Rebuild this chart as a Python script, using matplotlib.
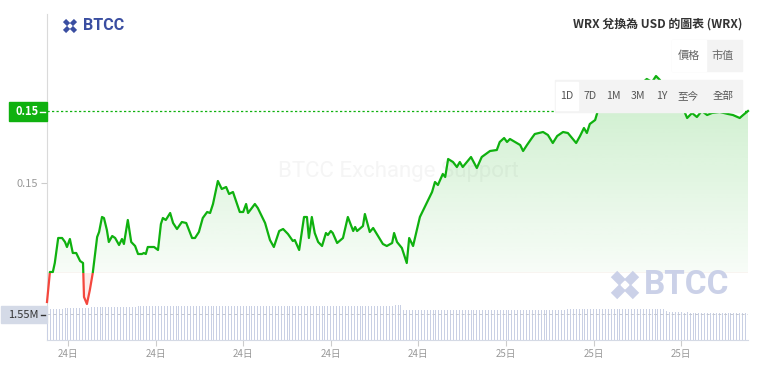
import numpy as np
import matplotlib.pyplot as plt
from matplotlib.patches import Rectangle, Polygon
from matplotlib.lines import Line2D
from matplotlib.colors import to_rgb

plt.rcParams['font.family'] = ['Noto Sans CJK TC', 'DejaVu Sans']

# minutes since 24日 08:17
minutes = [0, 6, 12, 16, 23, 31, 37, 41, 47, 53,
           60, 68, 74, 76, 82, 88, 94, 103, 107, 113,
           117, 123, 127, 134, 140, 148, 154, 158, 166, 173,
           181, 187, 195, 199, 203, 207, 220, 228, 234, 238,
           244, 253, 259, 267, 277, 286, 298, 304, 312, 320,
           329, 335, 341, 351, 359, 368, 374, 382, 396, 403,
           409, 413, 427, 433, 448, 458, 466, 477, 485, 495,
           505, 509, 518, 528, 534, 538, 544, 550, 557, 565,
           573, 577, 583, 587, 596, 608, 618, 629, 633, 637,
           649, 653, 663, 670, 690, 698, 709, 713, 719, 729,
           739, 744, 752, 766, 791, 797, 803, 813, 818, 824,
           834, 842, 848, 854, 871, 883, 893, 910, 924, 930,
           939, 945, 951, 972, 978, 986, 996, 1002, 1011, 1019,
           1029, 1039, 1048, 1060, 1070, 1087, 1095, 1103, 1109, 1115,
           1126, 1132, 1142, 1156, 1173, 1187, 1202, 1218, 1232, 1243,
           1251, 1259, 1269, 1284, 1296, 1308, 1315, 1325, 1335, 1345,
           1356, 1366, 1382, 1399, 1409, 1423, 1430, 1440]
price = [0.14405, 0.14555, 0.14555, 0.14600, 0.14725, 0.14725, 0.14705, 0.14680, 0.14720, 0.14650,
         0.14650, 0.14610, 0.14600, 0.14430, 0.14395, 0.14465, 0.14550, 0.14730, 0.14755, 0.14830,
         0.14825, 0.14765, 0.14705, 0.14735, 0.14725, 0.14690, 0.14720, 0.14695, 0.14815, 0.14705,
         0.14685, 0.14645, 0.14645, 0.14650, 0.14645, 0.14680, 0.14680, 0.14665, 0.14795, 0.14825,
         0.14815, 0.14850, 0.14800, 0.14770, 0.14805, 0.14800, 0.14725, 0.14725, 0.14755, 0.14825,
         0.14855, 0.14850, 0.14895, 0.15010, 0.14970, 0.14980, 0.14945, 0.14955, 0.14855, 0.14855,
         0.14895, 0.14850, 0.14895, 0.14875, 0.14800, 0.14715, 0.14680, 0.14760, 0.14770, 0.14745,
         0.14710, 0.14715, 0.14665, 0.14830, 0.14830, 0.14725, 0.14830, 0.14750, 0.14705, 0.14685,
         0.14750, 0.14740, 0.14760, 0.14750, 0.14700, 0.14725, 0.14830, 0.14760, 0.14780, 0.14760,
         0.14785, 0.14845, 0.14755, 0.14775, 0.14695, 0.14685, 0.14700, 0.14750, 0.14705, 0.14675,
         0.14600, 0.14725, 0.14685, 0.14830, 0.14955, 0.15005, 0.14990, 0.15045, 0.15030, 0.15120,
         0.15105, 0.15080, 0.15105, 0.15080, 0.15130, 0.15075, 0.15130, 0.15160, 0.15165, 0.15205,
         0.15225, 0.15205, 0.15220, 0.15190, 0.15160, 0.15190, 0.15225, 0.15245, 0.15250, 0.15255,
         0.15240, 0.15200, 0.15235, 0.15255, 0.15250, 0.15200, 0.15235, 0.15275, 0.15250, 0.15295,
         0.15315, 0.15365, 0.15415, 0.15440, 0.15430, 0.15465, 0.15455, 0.15490, 0.15520, 0.15505,
         0.15535, 0.15515, 0.15475, 0.15440, 0.15405, 0.15365, 0.15325, 0.15350, 0.15330, 0.15360,
         0.15340, 0.15350, 0.15355, 0.15345, 0.15340, 0.15325, 0.15340, 0.15360]
baseline = 0.14550

# volume (millions), one bar every 6 minutes
volume = [1.85, 1.86, 1.86, 1.87, 1.88, 1.88, 1.89, 1.90, 1.90, 1.91, 1.92, 1.92, 1.93, 1.94, 1.94, 1.95, 1.95, 1.96, 1.96, 1.97,
          1.97, 1.97, 1.98, 1.98, 1.98, 1.99, 1.99, 1.99, 2.00, 2.00, 2.00, 2.01, 2.01, 2.01, 2.02, 2.02, 2.02, 2.02, 2.03, 2.03,
          2.03, 2.04, 2.03, 2.04, 2.04, 2.03, 2.04, 2.04, 2.04, 2.03, 2.04, 2.04, 2.04, 2.04, 2.03, 2.04, 2.04, 2.04, 2.04, 2.04,
          2.04, 2.04, 2.03, 2.04, 2.04, 2.04, 2.04, 2.04, 2.03, 2.04, 2.04, 2.04, 2.04, 2.04, 2.04, 2.03, 2.04, 2.04, 2.04, 2.04,
          2.04, 2.03, 2.04, 2.04, 2.04, 2.04, 2.03, 2.04, 2.04, 2.04, 2.04, 2.04, 2.03, 2.04, 2.04, 2.04, 2.04, 2.03, 2.04, 2.04,
          2.04, 2.04, 2.04, 2.03, 2.04, 2.04, 2.04, 2.04, 2.03, 2.04, 2.04, 2.04, 2.04, 2.04, 2.03, 2.04, 2.04, 2.04, 2.04, 2.08,
          2.09, 2.07, 1.82, 1.81, 1.81, 1.81, 1.82, 1.81, 1.81, 1.81, 1.80, 1.81, 1.81, 1.81, 1.81, 1.82, 1.81, 1.81, 1.81, 1.81,
          1.81, 1.80, 1.81, 1.81, 1.82, 1.81, 1.81, 1.81, 1.81, 1.80, 1.81, 1.81, 1.82, 1.81, 1.81, 1.81, 1.80, 1.81, 1.81, 1.81,
          1.81, 1.81, 1.82, 1.81, 1.81, 1.81, 1.80, 1.81, 1.81, 1.81, 1.82, 1.81, 1.81, 1.81, 1.81, 1.80, 1.81, 1.81, 1.85, 1.85,
          1.85, 1.86, 1.85, 1.85, 1.85, 1.84, 1.85, 1.85, 1.86, 1.85, 1.85, 1.85, 1.85, 1.84, 1.85, 1.86, 1.85, 1.85, 1.85, 1.85,
          1.85, 1.85, 1.84, 1.85, 1.85, 1.86, 1.85, 1.85, 1.85, 1.85, 1.84, 1.85, 1.75, 1.68, 1.65, 1.65, 1.65, 1.65, 1.64, 1.65,
          1.64, 1.64, 1.64, 1.64, 1.63, 1.64, 1.63, 1.63, 1.63, 1.63, 1.62, 1.63, 1.62, 1.62, 1.62, 1.62, 1.61, 1.62, 1.61, 1.61, 1.61]
vol_label = 1.55

start_min = 8 * 60 + 17
tick_hours = [9, 12, 15, 18, 21, 24, 27, 30]
tick_labels = ['24日', '24日', '24日', '24日', '24日', '25日', '25日', '25日']

title = 'WRX 兌換為 USD 的圖表 (WRX)'
modes = ['價格', '市值']
ranges = ['1D', '7D', '1M', '3M', '1Y', '至今', '全部']

GREEN = '#0fb10f'
RED = '#f4473d'

W, H = 764, 371
fig = plt.figure(figsize=(W / 100, H / 100), dpi=100)


def fx(x):
    return x / W


def fy(y):
    return 1 - y / H


L, R, T, B = 47, 748, 14, 340
ax = fig.add_axes([fx(L), fy(B), (R - L) / W, (B - T) / H])
axv = fig.add_axes([fx(L), fy(B), (R - L) / W, 36 / H], sharex=ax)

t = np.array(minutes, float)
p = np.array(price)
ylo, yhi = 0.14215, 0.15845

# gradient area under the line
ys = np.linspace(ylo, yhi, 400)
img = np.zeros((400, 1, 4))
up = ys >= baseline
frac = np.clip((ys - baseline) / (p.max() - baseline), 0, 1)
img[up, 0, :3] = to_rgb(GREEN)
img[up, 0, 3] = 0.03 + 0.19 * frac[up]
img[~up, 0, :3] = to_rgb(RED)
img[~up, 0, 3] = 0.10
im = ax.imshow(img, extent=[t[0], t[-1], ylo, yhi], origin='lower',
               aspect='auto', interpolation='bilinear', zorder=1)
poly = Polygon(np.column_stack([np.r_[t[0], t, t[-1]], np.r_[baseline, p, baseline]]),
               closed=True, facecolor='none', edgecolor='none')
ax.add_patch(poly)
im.set_clip_path(poly)

# line, green above baseline and red below
g_line, = ax.plot(t, p, color=GREEN, lw=1.6, zorder=3, solid_joinstyle='round')
r_line, = ax.plot(t, p, color=RED, lw=1.6, zorder=3, solid_joinstyle='round')
g_line.set_clip_path(Rectangle((-100, baseline), 2000, 1, transform=ax.transData))
r_line.set_clip_path(Rectangle((-100, baseline - 1), 2000, 1, transform=ax.transData))

ax.axhline(p[-1], color=GREEN, lw=0.9, ls=(0, (1.8, 1.8)), zorder=2)

ax.text(fx(398), fy(172), 'BTCC Exchange Support', transform=fig.transFigure,
        ha='center', va='center', fontsize=16, color='#f5f5f5', family='Roboto', zorder=0.5)

ax.set_xlim(t[0], t[-1])
ax.set_ylim(ylo, yhi)
for s in ['top', 'right']:
    ax.spines[s].set_visible(False)
ax.spines['left'].set_color('#dadada')
ax.spines['bottom'].set_color('#d5dae5')
ax.set_yticks([0.15])
ax.set_yticklabels(['0.15'])
ax.set_xticks([h * 60 - start_min for h in tick_hours])
ax.set_xticklabels(tick_labels)
ax.tick_params(axis='both', colors='#cccccc', labelcolor='#999999', length=4, width=0.8)
ax.tick_params(axis='x', labelsize=7, pad=2.5)
ax.tick_params(axis='y', labelsize=8, pad=2.8)

# volume
vt = np.linspace(t[0], t[-1], len(volume))
axv.vlines(vt, 0, volume, colors='#c9d0e4', lw=0.72, antialiased=False)
axv.axhline(vol_label, color='#c4c8d2', lw=0.7, ls=(0, (3, 3)))
axv.set_ylim(0, 2.15)
axv.axis('off')

# price / volume labels on the axis
fig.add_artist(Rectangle((fx(9), fy(121)), 38 / W, 19 / H, transform=fig.transFigure,
                         color=GREEN, zorder=6))
fig.text(fx(27.5), fy(111.5), '0.15', ha='center', va='center', fontsize=8,
         fontweight='bold', color='white', zorder=7)
fig.add_artist(Line2D([fx(40), fx(45)], [fy(111.5), fy(111.5)], color='white', lw=1, zorder=7))

fig.add_artist(Rectangle((fx(1), fy(323)), 46 / W, 17 / H, transform=fig.transFigure,
                         color='#d4dae7', zorder=6))
fig.text(fx(23), fy(314.5), '1.55M', ha='center', va='center', fontsize=8,
         color='#333333', zorder=7)
fig.add_artist(Line2D([fx(41), fx(45)], [fy(314.5), fy(314.5)], color='#333333', lw=1, zorder=7))

# header
fig.text(fx(742), fy(24), title, ha='right', va='center', fontsize=8.6,
         fontweight='bold', color='#333333')

fig.add_artist(Rectangle((fx(672), fy(71)), 70 / W, 31 / H, transform=fig.transFigure,
                         color='#f3f3f3', zorder=5))
fig.add_artist(Rectangle((fx(672), fy(71)), 34 / W, 31 / H, transform=fig.transFigure,
                         color='white', zorder=5))
for label, x in zip(modes, [689, 723]):
    fig.text(fx(x), fy(55.5), label, ha='center', va='center', fontsize=8,
             color='#666666', zorder=6)

fig.add_artist(Rectangle((fx(555), fy(112)), 187 / W, 32 / H, transform=fig.transFigure,
                         color='#f3f3f3', zorder=5))
fig.add_artist(Rectangle((fx(556), fy(110)), 22 / W, 28 / H, transform=fig.transFigure,
                         color='white', zorder=5))
for label, x in zip(ranges, [567, 590, 613, 638, 662, 688, 723]):
    fig.text(fx(x), fy(96), label, ha='center', va='center', fontsize=7.6,
             color='#555555', zorder=6)


def logo_icon(cx, cy, s, color, lw):
    for y0, y1 in [(cy - s, cy + s), (cy + s, cy - s)]:
        fig.add_artist(Line2D([fx(cx - s), fx(cx + s)], [fy(y0), fy(y1)], color=color,
                              lw=lw, solid_capstyle='butt', zorder=6))
    d = s * 0.35
    fig.add_artist(Polygon([(fx(cx - d), fy(cy)), (fx(cx), fy(cy - d)), (fx(cx + d), fy(cy)),
                            (fx(cx), fy(cy + d))], closed=True, transform=fig.transFigure,
                           color='white', zorder=7))


logo_icon(70, 26, 5.5, '#3a4ea1', 3.2)
fig.text(fx(83), fy(26), 'BTCC', ha='left', va='center', fontsize=11.5,
         fontweight='bold', color='#3a4ea1', family='Roboto')

logo_icon(625, 285, 11, '#cbd1e8', 6.5)
fig.text(fx(644), fy(285), 'BTCC', ha='left', va='center', fontsize=24,
         fontweight='bold', color='#cbd1e8', family='Roboto')

fig.savefig('out.png', dpi=100)
